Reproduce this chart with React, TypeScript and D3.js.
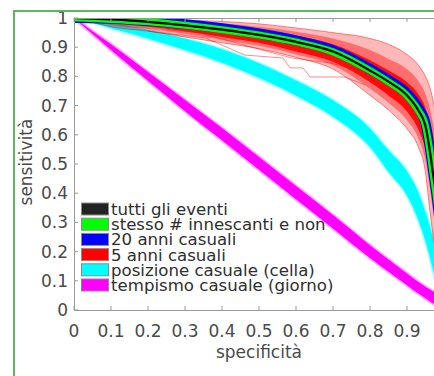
import React from 'react';
import * as d3 from 'd3';

// griglia di specificità su cui sono letti i valori
const specGrid = [0, 0.05, 0.1, 0.2, 0.3, 0.4, 0.5, 0.6, 0.7, 0.8, 0.85, 0.9, 0.93, 0.95, 0.96, 0.97, 0.98, 0.99, 1];

const tuttiEventi = [1, 0.998, 0.995, 0.987, 0.975, 0.96, 0.942, 0.918, 0.885, 0.82, 0.782, 0.735, 0.685, 0.63, 0.56, 0.47, 0.38, 0.27, 0.12];
const stessoNumero = [1, 0.998, 0.995, 0.987, 0.975, 0.96, 0.942, 0.918, 0.884, 0.82, 0.781, 0.734, 0.684, 0.63, 0.56, 0.47, 0.38, 0.27, 0.12];
const ventiAnni = [1, 0.999, 0.997, 0.99, 0.979, 0.965, 0.947, 0.923, 0.89, 0.826, 0.788, 0.742, 0.693, 0.64, 0.57, 0.48, 0.39, 0.28, 0.13];

// 5 anni casuali: fascio largo (bordo esterno e nucleo denso)
const cinqueAnniOutUp = [1, 0.999, 0.999, 0.997, 0.993, 0.988, 0.98, 0.966, 0.95, 0.93, 0.91, 0.875, 0.84, 0.8, 0.77, 0.72, 0.64, 0.5, 0.3];
const cinqueAnniMidUp = [1, 0.999, 0.998, 0.995, 0.99, 0.982, 0.97, 0.953, 0.93, 0.89, 0.86, 0.825, 0.785, 0.74, 0.7, 0.64, 0.56, 0.43, 0.25];
const cinqueAnniInUp = [1, 0.999, 0.997, 0.993, 0.985, 0.975, 0.96, 0.94, 0.91, 0.855, 0.82, 0.78, 0.74, 0.69, 0.64, 0.57, 0.48, 0.37, 0.2];
const cinqueAnniInLo = [1, 0.99, 0.983, 0.97, 0.955, 0.935, 0.915, 0.885, 0.85, 0.78, 0.735, 0.68, 0.62, 0.55, 0.49, 0.41, 0.32, 0.22, 0.1];
const cinqueAnniMidLo = [1, 0.988, 0.976, 0.962, 0.945, 0.925, 0.905, 0.875, 0.838, 0.758, 0.71, 0.65, 0.59, 0.51, 0.43, 0.34, 0.25, 0.17, 0.08];
const cinqueAnniOutLo = [1, 0.985, 0.97, 0.955, 0.935, 0.915, 0.895, 0.865, 0.825, 0.735, 0.685, 0.62, 0.56, 0.47, 0.36, 0.26, 0.18, 0.12, 0.05];

// curve isolate del gruppo 5 anni
const outlierASpec = [0.2, 0.354, 0.462, 0.565, 0.584, 0.619, 0.638, 0.732, 0.786];
const outlierASens = [0.955, 0.932, 0.873, 0.863, 0.829, 0.829, 0.798, 0.798, 0.771];
const outlierBSpec = [0.25, 0.341, 0.489, 0.589, 0.692, 0.773];
const outlierBSens = [0.96, 0.949, 0.897, 0.863, 0.846, 0.822];

const posizioneUp = [1, 0.996, 0.985, 0.96, 0.93, 0.893, 0.845, 0.786, 0.718, 0.622, 0.547, 0.475, 0.405, 0.335, 0.295, 0.25, 0.2, 0.15, 0.1];
const posizioneLo = [1, 0.984, 0.965, 0.93, 0.89, 0.847, 0.795, 0.734, 0.662, 0.558, 0.473, 0.392, 0.31, 0.235, 0.19, 0.14, 0.09, 0.05, 0.02];

const tempismoUp = [1, 0.955, 0.91, 0.815, 0.719, 0.623, 0.524, 0.425, 0.325, 0.222, 0.173, 0.125, 0.097, 0.08, 0.072, 0.064, 0.056, 0.048, 0.04];
const tempismoLo = [1, 0.945, 0.89, 0.785, 0.681, 0.581, 0.48, 0.379, 0.279, 0.178, 0.131, 0.085, 0.057, 0.04, 0.031, 0.023, 0.015, 0.007, 0];

const legendLabels = ['tutti gli eventi', 'stesso # innescanti e non', '20 anni casuali', '5 anni casuali', 'posizione casuale (cella)', 'tempismo casuale (giorno)'];
const legendColors = ['#222222', '#00ff00', '#0000ff', '#ff0000', '#00ffff', '#ff00ff'];
const ticks = [0, 0.1, 0.2, 0.3, 0.4, 0.5, 0.6, 0.7, 0.8, 0.9, 1];

const W = 434;
const H = 376;
const FONT = '"DejaVu Sans", sans-serif';

export default function App() {
  const x = d3.scaleLinear().domain([0, 1]).range([74, 444]);
  const y = d3.scaleLinear().domain([0, 1]).range([310, 18]);

  const line = d3.line<[number, number]>()
    .x(d => x(d[0]))
    .y(d => y(d[1]))
    .curve(d3.curveMonotoneX);
  const straight = d3.line<[number, number]>()
    .x(d => x(d[0]))
    .y(d => y(d[1]));
  const band = d3.area<number>()
    .x(d => x(specGrid[d]))
    .curve(d3.curveMonotoneX);

  const pts = (vals: number[]) => specGrid.map((s, i) => [s, vals[i]] as [number, number]);
  const bandPath = (up: number[], lo: number[]) =>
    band.y0(i => y(lo[i])).y1(i => y(up[i]))(specGrid.map((_, i) => i)) || '';
  const thinRed = (d: string, k: string) => (
    <path key={k} d={d} fill="none" stroke="#ff0000" strokeOpacity={0.45} strokeWidth={1} />
  );

  return (
    <svg width={W} height={H} style={{ position: 'absolute', left: 0, top: 0, background: '#fff' }}>
      <defs>
        <clipPath id="plot-clip">
          <rect x={74} y={18} width={370} height={292} />
        </clipPath>
      </defs>
      <rect x={0} y={0} width={W} height={H} fill="#fff" />

      <g clipPath="url(#plot-clip)">
        <path d={bandPath(tempismoUp, tempismoLo)} fill="#ff00ff" stroke="#ff00ff" strokeOpacity={0.35} strokeWidth={3} />
        <path d={bandPath(posizioneUp, posizioneLo)} fill="#00ffff" stroke="#00ffff" strokeOpacity={0.35} strokeWidth={3} />

        <path d={bandPath(cinqueAnniOutUp, cinqueAnniOutLo)} fill="#ff0000" fillOpacity={0.28} />
        <path d={bandPath(cinqueAnniMidUp, cinqueAnniMidLo)} fill="#ff0000" fillOpacity={0.4} />
        {thinRed(line(pts(cinqueAnniOutUp)) || '', 'ou')}
        {thinRed(line(pts(cinqueAnniOutLo)) || '', 'ol')}
        {thinRed(straight(outlierASpec.map((s, i) => [s, outlierASens[i]] as [number, number])) || '', 'a')}
        {thinRed(straight(outlierBSpec.map((s, i) => [s, outlierBSens[i]] as [number, number])) || '', 'b')}
        <path d={bandPath(cinqueAnniInUp, cinqueAnniInLo)} fill="#ff0000" fillOpacity={0.92} />

        <path d={line(pts(ventiAnni)) || ''} fill="none" stroke="#0000ff" strokeWidth={10} />
        <path d={line(pts(stessoNumero)) || ''} fill="none" stroke="#00ff00" strokeWidth={7} />
        <path d={line(pts(tuttiEventi)) || ''} fill="none" stroke="#000000" strokeWidth={2.2} />
      </g>

      {/* assi */}
      <g stroke="#9a9a9a" strokeWidth={1} fill="none">
        <line x1={74} x2={444} y1={310.5} y2={310.5} />
        <line x1={74} x2={444} y1={18.5} y2={18.5} />
        <line x1={74.5} x2={74.5} y1={18} y2={310} />
        {ticks.map(t => (
          <g key={'t' + t}>
            <line x1={x(t)} x2={x(t)} y1={310} y2={306} />
            <line x1={x(t)} x2={x(t)} y1={18} y2={22} />
            <line x1={74} x2={78} y1={y(t)} y2={y(t)} />
          </g>
        ))}
      </g>
      <g fontFamily={FONT} fontSize={17} fill="#4a4a4a">
        {ticks.slice(0, 10).map(t => (
          <text key={'x' + t} x={x(t)} y={337} textAnchor="middle">{String(t)}</text>
        ))}
        {ticks.map(t => (
          <text key={'y' + t} x={68} y={y(t) + 6} textAnchor="end">{String(t)}</text>
        ))}
        <text x={259} y={358} textAnchor="middle">specificità</text>
        <text transform="translate(32,162) rotate(-90)" textAnchor="middle">sensitività</text>
      </g>

      {/* legenda */}
      <g fontFamily={FONT} fontSize={16.6} fill="#2e2e2e">
        {legendLabels.map((lab, i) => (
          <g key={lab} transform={`translate(0, ${209 + i * 15.2})`}>
            <rect x={81.5} y={-6} width={27} height={12} fill={legendColors[i]} stroke="#8a8a8a" strokeWidth={1} />
            <text x={111} y={6}>{lab}</text>
          </g>
        ))}
      </g>

      {/* cornice verde */}
      <g stroke="#5cb85c" strokeWidth={2} fill="none">
        <line x1={14} x2={W} y1={11} y2={11} />
        <line x1={14} x2={14} y1={10} y2={H} />
      </g>
    </svg>
  );
}
